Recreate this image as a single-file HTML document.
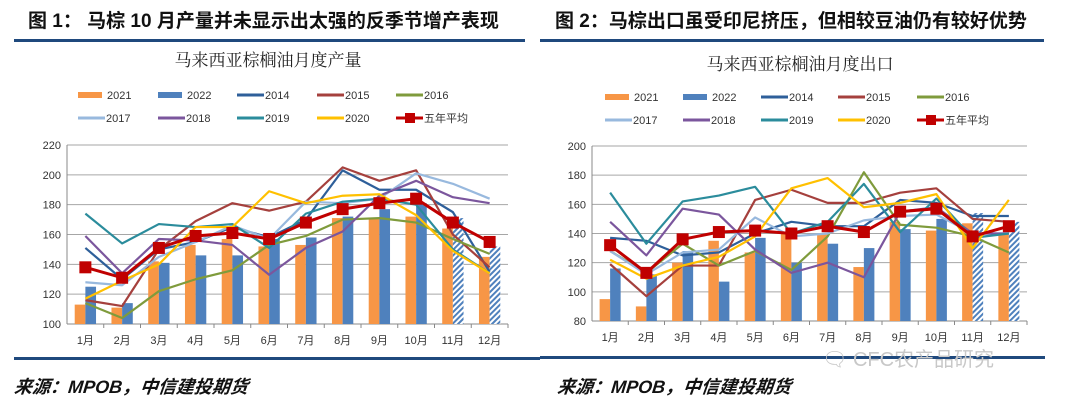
<!DOCTYPE html>
<html><head><meta charset="utf-8">
<style>
html,body{margin:0;padding:0;background:#fff;}
svg{display:block;font-family:"Liberation Sans","Noto Sans CJK SC",sans-serif;}
.ttl{font-family:"Liberation Sans","Noto Sans CJK SC",sans-serif;font-weight:bold;font-size:19px;fill:#111;}
.ctitle{font-family:"Liberation Serif","Noto Serif CJK SC",serif;font-size:17px;fill:#222;}
.tick{font-size:11px;fill:#333;}
.leg{font-size:11px;fill:#333;}
.src{font-weight:bold;font-style:italic;font-size:18px;fill:#111;}
</style></head>
<body>
<svg id="root" width="1080" height="408" viewBox="0 0 1080 408" xmlns="http://www.w3.org/2000/svg">
<defs>
<pattern id="hatch" patternUnits="userSpaceOnUse" width="4" height="4" patternTransform="rotate(45)">
<rect width="4" height="4" fill="#fff"/><rect width="2" height="4" fill="#4f81bd"/>
</pattern>
</defs>
<text class="ttl" x="28" y="27">图 1： 马棕 10 月产量并未显示出太强的反季节增产表现</text>
<rect x="14" y="39" width="511" height="3" fill="#1f497d"/>
<text class="ttl" x="555" y="27">图 2：马棕出口虽受印尼挤压，但相较豆油仍有较好优势</text>
<rect x="540" y="39" width="504" height="3" fill="#1f497d"/>
<text class="ctitle" x="268" y="66" text-anchor="middle">马来西亚棕榈油月度产量</text>
<text class="ctitle" x="800" y="70" text-anchor="middle">马来西亚棕榈油月度出口</text>
<rect x="14" y="357" width="526" height="3" fill="#1f497d"/>
<rect x="540" y="356" width="505" height="3" fill="#1f497d"/>
<text class="src" x="14" y="393" transform="skewX(-6) translate(41,0)">来源：MPOB，中信建投期货</text>
<text class="src" x="557" y="393" transform="skewX(-6) translate(41,0)">来源：MPOB，中信建投期货</text>
<text x="822" y="366" font-size="20" fill="#c8c8c8">🗨 CFC农产品研究</text>
<g id="c1"></g><g id="c2"></g>
</svg>
<script>
const months=["1月","2月","3月","4月","5月","6月","7月","8月","9月","10月","11月","12月"];
const lineNames=["2014","2015","2016","2017","2018","2019","2020"];
const lineColors=["#2e5f9a","#a5403d","#7f9b3c","#98b9de","#7b569d","#2b8c9c","#ffc000"];
// Chart 1: production
const p2021=[113,111,142,153,157,152,153,171,171,172,164,145];
const p2022=[125,114,141,146,146,157,158,172,177,181,171,152];
const p2014=[151,130,150,155,165,158,170,203,190,190,175,135];
const p2015=[116,112,150,169,181,176,182,205,196,203,160,138];
const p2016=[114,104,122,130,136,153,159,170,171,168,157,147];
const p2017=[128,126,145,155,166,157,182,181,184,201,194,184];
const p2018=[159,134,157,156,153,133,151,162,186,196,185,181];
const p2019=[174,154,167,165,167,151,174,182,184,180,150,134];
const p2020=[117,129,140,165,165,189,181,186,187,173,149,134];
const pAvg=[138,131,151,159,161,157,168,177,181,184,168,155];
const pTicks=[100,120,140,160,180,200,220];
// Chart 2: exports
const e2021=[95,90,120,135,127,141,140,117,148,142,147,140];
const e2022=[116,112,128,107,137,120,133,130,143,150,154,148];
const e2014=[137,135,125,127,140,148,145,145,163,161,152,152];
const e2015=[119,97,118,118,163,170,161,161,168,171,150,148];
const e2016=[128,113,133,118,128,115,138,182,146,144,138,127];
const e2017=[128,112,127,129,151,138,140,149,152,153,140,140];
const e2018=[148,125,157,153,129,113,120,110,155,158,140,140];
const e2019=[168,133,162,166,172,140,148,174,141,164,137,140];
const e2020=[122,109,118,124,138,171,178,158,161,167,130,163];
const eAvg=[132,113,136,141,142,140,145,141,155,157,138,145];
const eTicks=[80,100,120,140,160,180,200];
const hatchedFrom=10;

const NS="http://www.w3.org/2000/svg";
function mk(parent,tag,attrs){const e=document.createElementNS(NS,tag);for(const k in attrs)e.setAttribute(k,attrs[k]);parent.appendChild(e);return e;}

function draw(g,cfg){
  const {x0,x1,y0,y1,ticks,b21,b22,lines,avg,legX,legY}=cfg;
  const vmin=ticks[0],vmax=ticks[ticks.length-1];
  const Y=v=>y0-(v-vmin)/(vmax-vmin)*(y0-y1);
  const step=(x1-x0)/months.length;
  const X=i=>x0+step*(i+0.5);
  ticks.forEach(t=>{
    const l=mk(g,"line",{x1:x0,x2:x1,y1:Y(t),y2:Y(t),stroke:t===vmin?"#888":"#a6a6a6","stroke-width":1});
    
    
    const tx=mk(g,"text",{x:x0-6,y:Y(t)+4,"text-anchor":"end",class:"tick"});tx.textContent=t;
    
    
  });
  const ax=mk(g,"line",{x1:x0,x2:x0,y1:y1,y2:y0,stroke:"#888"});
  
  
  months.forEach((m,i)=>{
    const tk=mk(g,"line",{x1:x0+step*(i+1),x2:x0+step*(i+1),y1:y0,y2:y0+4,stroke:"#888"});
    
    
    const tx=mk(g,"text",{x:X(i),y:y0+20,"text-anchor":"middle",class:"tick"});tx.textContent=m;
    
    
  });
  const bw=step*0.29;
  b21.forEach((v,i)=>{
    const r=mk(g,"rect",{x:X(i)-bw,y:Y(v),width:bw,height:Y(vmin)-Y(v),fill:"#f79646"});
    
    
  });
  b22.forEach((v,i)=>{
    const r=mk(g,"rect",{x:X(i),y:Y(v),width:bw,height:Y(vmin)-Y(v),fill:i>=hatchedFrom?"url(#hatch)":"#4f81bd"});
    
    
  });
  lines.forEach((s,k)=>{
    const p=mk(g,"polyline",{points:s.map((v,i)=>X(i)+","+Y(v)).join(" "),fill:"none",stroke:lineColors[k],"stroke-width":2.2,"stroke-linejoin":"round"});
    
    
  });
  const ap=mk(g,"polyline",{points:avg.map((v,i)=>X(i)+","+Y(v)).join(" "),fill:"none",stroke:"#c00000","stroke-width":3});
  
  
  avg.forEach((v,i)=>{
    const r=mk(g,"rect",{x:X(i)-6,y:Y(v)-6,width:12,height:12,fill:"#c00000"});
    
    
  });
  const items=[["2021","#f79646","bar"],["2022","#4f81bd","bar"]].concat(lineNames.map((n,k)=>[n,lineColors[k],"line"])).concat([["五年平均","#c00000","avg"]]);
  items.forEach((it,idx)=>{
    const col=idx%5,row=Math.floor(idx/5);
    const lx=legX[col],ly=legY[row];
    const lg=mk(g,"g",{});
    
    
    if(it[2]==="bar"){mk(lg,"rect",{x:lx,y:ly-5,width:24,height:6,fill:it[1]});}
    else{mk(lg,"line",{x1:lx,x2:lx+27,y1:ly-2,y2:ly-2,stroke:it[1],"stroke-width":3});
      if(it[2]==="avg")mk(lg,"rect",{x:lx+9,y:ly-7,width:10,height:10,fill:it[1]});}
    const t=mk(lg,"text",{x:lx+(it[2]==="bar"?29:28),y:ly+2,class:"leg"});t.textContent=it[0];
  });
}
draw(document.getElementById("c1"),{x0:67,x1:508,y0:324,y1:145,ticks:pTicks,b21:p2021,b22:p2022,
  lines:[p2014,p2015,p2016,p2017,p2018,p2019,p2020],avg:pAvg,legX:[78,158,237,317,396],legY:[97,120]});
draw(document.getElementById("c2"),{x0:592,x1:1027,y0:321,y1:146,ticks:eTicks,b21:e2021,b22:e2022,
  lines:[e2014,e2015,e2016,e2017,e2018,e2019,e2020],avg:eAvg,legX:[605,683,761,838,917],legY:[99,122]});
</script>
</body></html>
